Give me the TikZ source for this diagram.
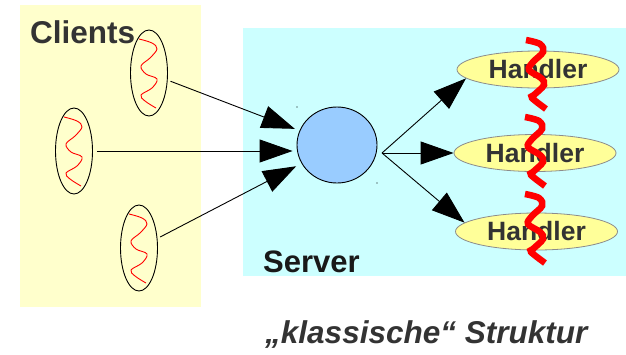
\documentclass[tikz,border=0pt]{standalone}
\usepackage{fontspec}
\setmainfont{Liberation Sans}
\usetikzlibrary{arrows.meta,shapes.geometric}
\definecolor{clientbg}{HTML}{FFFFCC}
\definecolor{serverbg}{HTML}{CCFFFF}
\definecolor{circfill}{HTML}{99CCFF}
\definecolor{handfill}{HTML}{FFFF99}
\definecolor{txtgray}{HTML}{333333}
\definecolor{waver}{HTML}{FF0000}
\begin{document}
\begin{tikzpicture}[x=1pt,y=-1pt,
  client/.style={ellipse,draw=black,line width=0.9pt,minimum width=37pt,minimum height=86pt,inner sep=0pt},
  handler/.style={ellipse,draw=black!45,line width=0.8pt,fill=handfill,minimum width=162pt,minimum height=37pt,inner sep=0pt,
    text=txtgray,font=\fontsize{26.5}{26.5}\selectfont\bfseries},
  conn/.style={draw=black,line width=0.9pt,-{Triangle[length=33pt,width=23pt]}},
  bigtext/.style={inner sep=0pt,anchor=base west},
  thread/.style={draw=waver,line width=0.9pt},
  squig/.style={draw=waver,line width=6.5pt},
  pics/wave/.style={code={
    \draw[thread] plot[smooth,tension=0.6] coordinates
      {(-10,-34) (3,-30) (8,-24) (1,-15) (-8,-7) (-3,1) (8,6) (3,15) (-8,22) (-4,28) (7,35)};
  }},
  pics/squiggle/.style={code={
    \draw[squig] plot[smooth,tension=0.6] coordinates
      {(0,0) (14,4) (17,12) (7,22) (3,30) (15,38) (18,45) (8,55) (6,58) (20,69)};
  }}
]
\useasboundingbox (0,0) rectangle (626,354);

% backgrounds
\fill[clientbg] (20,5) rectangle (201,307);
\fill[serverbg] (243,28) rectangle (626,276);

% labels
\node[bigtext,text=txtgray,font=\fontsize{31.5}{31.5}\selectfont\bfseries] (lclients) at (30,43) {Clients};
\node[bigtext,text=black!90,font=\fontsize{31}{31}\selectfont\bfseries] (lserver) at (263,272) {Server};
\node[bigtext,text=txtgray,font=\fontsize{31.5}{31.5}\selectfont\bfseries\itshape] (lcap) at (265,343) {„klassische“ Struktur};

% client processes
\node[client] (c1) at (149,73) {};
\node[client] (c2) at (74,151) {};
\node[client] (c3) at (139,248) {};
\pic at (149,73) {wave};
\pic at (74,151) {wave};
\pic at (139,248) {wave};

% server dispatcher
\node[ellipse,draw=black,line width=0.9pt,fill=circfill,minimum width=80pt,minimum height=76pt,inner sep=0pt] (srv) at (337,145) {};
\coordinate (fan) at (382,153);

% handlers
\node[handler] (h1) at (538,69.5) {Handler};
\node[handler] (h2) at (535,153) {Handler};
\node[handler] (h3) at (536.5,231.5) {Handler};

% connections
\draw[conn,shorten <=3pt,shorten >=5pt] (c1) -- (srv);
\draw[conn,shorten <=4pt,shorten >=4pt] (c2.east) -- (c2.east -| srv.west);
\draw[conn,shorten <=3pt,shorten >=6pt] (c3) -- (srv);
\draw[conn] (fan) -- (h1.187);
\draw[conn] (fan) -- (h2.west);
\draw[conn] (fan) -- (h3.173);

% handler threads
\pic at (526,40) {squiggle};
\pic at (525,117) {squiggle};
\pic at (525,194) {squiggle};

% small marks
\fill[black] (297,107) circle (0.6pt);
\fill[black] (377,183) circle (0.6pt);
\end{tikzpicture}
\end{document}
